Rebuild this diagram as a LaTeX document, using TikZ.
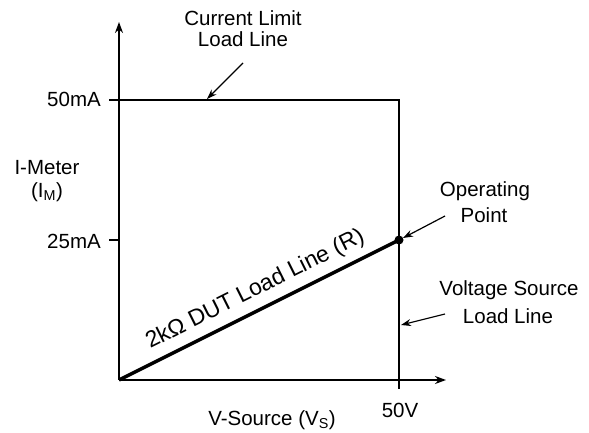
\documentclass[tikz,border=0pt]{standalone}
\usepackage{fontspec}
\setmainfont{Liberation Sans}
\usetikzlibrary{arrows.meta}
\begin{document}
\begin{tikzpicture}[x=1pt,y=-1pt,
  lbl/.style={font=\fontsize{20.5}{24}\selectfont, inner sep=0pt, anchor=base},
  axis/.style={line width=1.8pt, -{Stealth[length=11pt,width=8pt]}},
  limit/.style={line width=1.4pt},
  callout/.style={line width=1.2pt, -{Stealth[length=10pt,width=7pt]}}]
\useasboundingbox (0,0) rectangle (589,433);
% key points
\coordinate (O) at (119,380);
\coordinate (ytop) at (119,22);
\coordinate (xend) at (446,380);
\coordinate (t50) at (109,100);
\coordinate (c50) at (399,100);
\coordinate (vbot) at (399,389);
\coordinate (t25) at (109,240);
\coordinate (y25) at (119,240);
\coordinate (op) at (399,240);
% axes
\draw[axis] (O) -- (ytop);
\draw[axis] (O) -- (xend);
% load lines
\draw[limit] (t50) -- (c50) -- (vbot);
\draw[limit] (t25) -- (y25);
\draw[line width=3.5pt] (O) -- (op);
\fill (op) circle (4.5);
% labels
\node[lbl, anchor=base east] (l50) at (101,107) {50mA};
\node[lbl, anchor=base east] (l25) at (101,248) {25mA};
\node[lbl] (im1) at (47,175) {I-Meter};
\node[lbl] (im2) at (47,197) {(I\textsubscript{M})};
\node[lbl] (vs) at (272,425) {V-Source (V\textsubscript{S})};
\node[lbl] (l50v) at (400,417) {50V};
\node[lbl] (cl1) at (243,26) {Current Limit};
\node[lbl] (cl2) at (243,47) {Load Line};
\node[lbl] (op1) at (485,196) {Operating};
\node[lbl] (op2) at (484,222) {Point};
\node[lbl] (vl1) at (509,295) {Voltage Source};
\node[lbl] (vl2) at (508,323) {Load Line};
\node[lbl, font=\fontsize{23}{26}\selectfont, rotate=26.57] (dut) at (258,295) {2kΩ DUT Load Line (R)};
% callouts
\coordinate (cla) at (243,63);
\coordinate (clb) at (207,99);
\draw[callout] (cla) -- (clb);
\coordinate (opa) at (445,216);
\coordinate (opb) at (403,238);
\draw[callout] (opa) -- (opb);
\coordinate (vsa) at (445,314);
\coordinate (vsb) at (401,325);
\draw[callout] (vsa) -- (vsb);
\end{tikzpicture}
\end{document}
